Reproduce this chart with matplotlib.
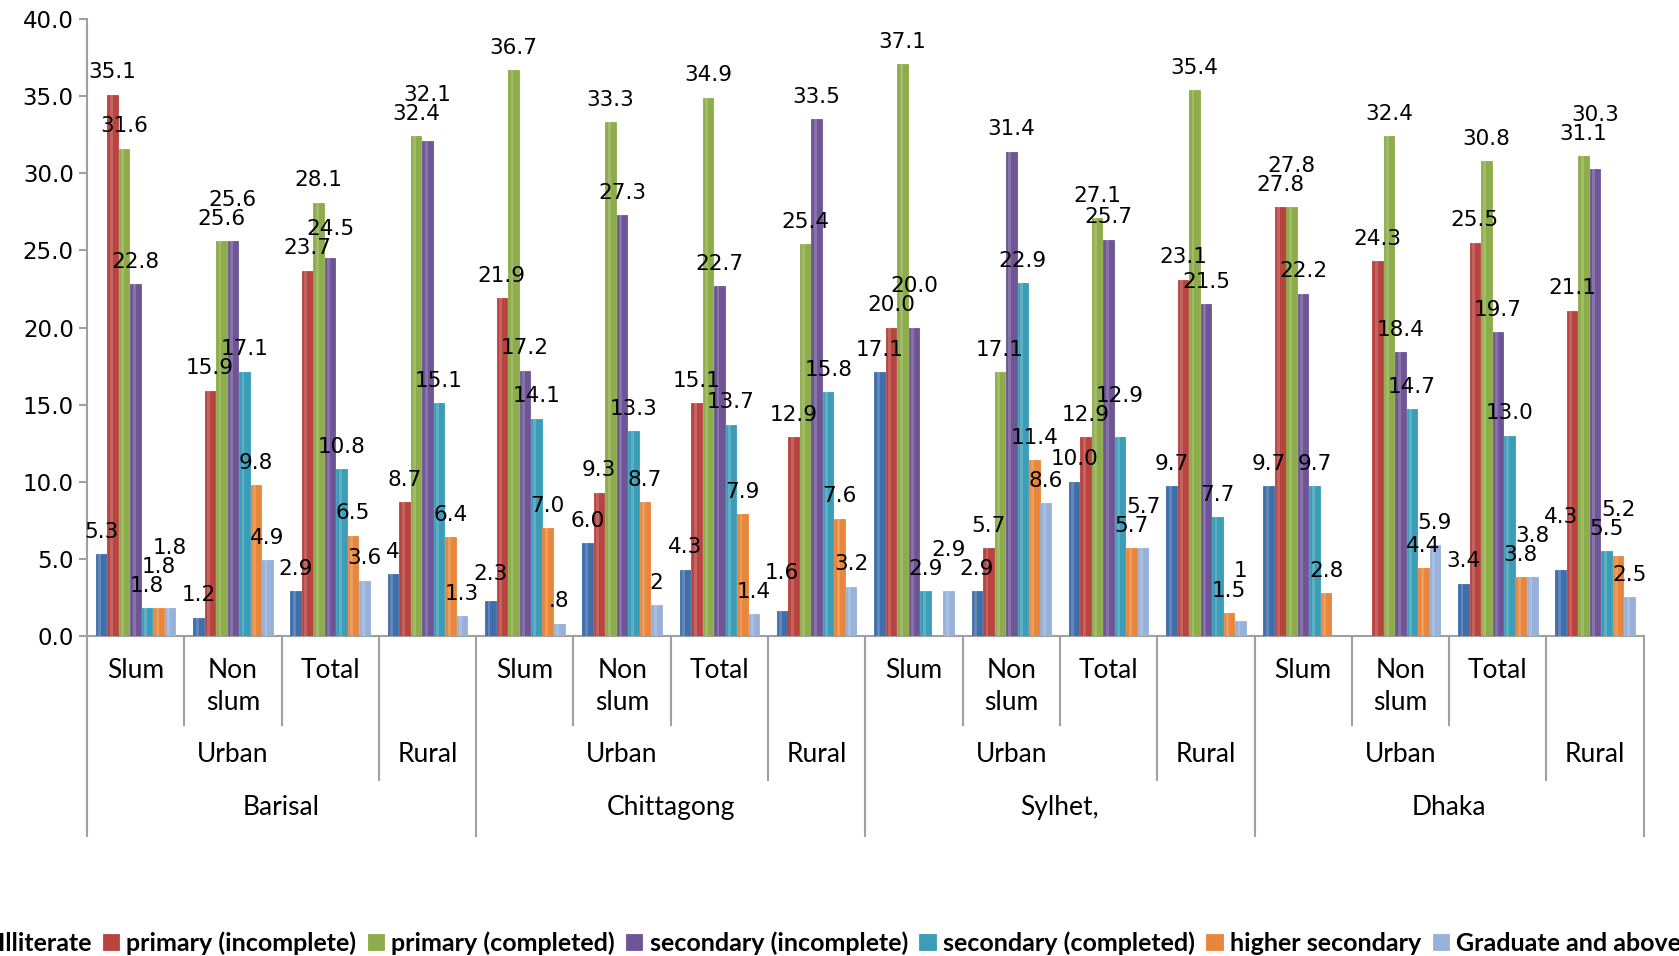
import numpy as np
import matplotlib.pyplot as plt
from matplotlib.transforms import blended_transform_factory

# --- Data ---
regions = ["Barisal", "Chittagong", "Sylhet,", "Dhaka"]
areas = ["Urban", "Rural"]
subgroups = ["Slum", "Non\nslum", "Total", ""]

series = ["Illiterate", "primary (incomplete)", "primary (completed)",
          "secondary (incomplete)", "secondary (completed)",
          "higher secondary", "Graduate and above"]

# values as printed on the chart (16 bars each: 4 regions x Slum/Non slum/Total/Rural)
illiterate = ["5.3", "1.2", "2.9", "4", "2.3", "6.0", "4.3", "1.6",
              "17.1", "2.9", "10.0", "9.7", "9.7", "0", "3.4", "4.3"]
primary_inc = ["35.1", "15.9", "23.7", "8.7", "21.9", "9.3", "15.1", "12.9",
               "20.0", "5.7", "12.9", "23.1", "27.8", "24.3", "25.5", "21.1"]
primary_comp = ["31.6", "25.6", "28.1", "32.4", "36.7", "33.3", "34.9", "25.4",
                "37.1", "17.1", "27.1", "35.4", "27.8", "32.4", "30.8", "31.1"]
secondary_inc = ["22.8", "25.6", "24.5", "32.1", "17.2", "27.3", "22.7", "33.5",
                 "20.0", "31.4", "25.7", "21.5", "22.2", "18.4", "19.7", "30.3"]
secondary_comp = ["1.8", "17.1", "10.8", "15.1", "14.1", "13.3", "13.7", "15.8",
                  "2.9", "22.9", "12.9", "7.7", "9.7", "14.7", "13.0", "5.5"]
higher_sec = ["1.8", "9.8", "6.5", "6.4", "7.0", "8.7", "7.9", "7.6",
              "0", "11.4", "5.7", "1.5", "2.8", "4.4", "3.8", "5.2"]
graduate = ["1.8", "4.9", "3.6", "1.3", ".8", "2", "1.4", "3.2",
            "2.9", "8.6", "5.7", "1", "0", "5.9", "3.8", "2.5"]

all_series = [illiterate, primary_inc, primary_comp, secondary_inc,
              secondary_comp, higher_sec, graduate]
colors = ["#3F6FAA", "#B8433F", "#8DAD4A", "#6E5596", "#3B9DB8", "#E8873C", "#97B1DA"]

n_groups = len(illiterate)
x = np.arange(n_groups)
bw = 0.118
offsets = (np.arange(len(series)) - 3) * bw

fig = plt.figure(figsize=(16.79, 9.56), dpi=100)
ax = fig.add_axes([0.0518, 0.3347, 0.9272, 0.6453])

for k, (name, vals, c) in enumerate(zip(series, all_series, colors)):
    h = [float(v) for v in vals]
    ax.bar(x + offsets[k], h, bw * 0.92, color=c, edgecolor=c, linewidth=0.6,
           label=name, zorder=3)
    # lighter highlight to hint the cylinder look
    ax.bar(x + offsets[k] - bw * 0.12, h, bw * 0.25, color="white", alpha=0.18,
           linewidth=0, zorder=4)

ax.set_xlim(-0.5, n_groups - 0.5)
ax.set_ylim(0, 40)
ax.set_yticks(np.arange(0, 40.1, 5))
ax.set_yticklabels([f"{v:.1f}" for v in np.arange(0, 40.1, 5)], fontsize=16.5)
ax.set_xticks([])
for s in ["top", "right"]:
    ax.spines[s].set_visible(False)
ax.spines["left"].set_color("#A0A0A0")
ax.spines["bottom"].set_color("#A0A0A0")
ax.spines["left"].set_linewidth(1.5)
ax.spines["bottom"].set_linewidth(1.5)
ax.tick_params(axis="y", colors="#A0A0A0", labelcolor="black", length=6, width=1.5)

# --- data labels, bumped upward to avoid collisions ---
fig.canvas.draw()
renderer = fig.canvas.get_renderer()
inv = ax.transData.inverted()
placed = []
for g in range(n_groups):
    for k, vals in enumerate(all_series):
        s = vals[g]
        if float(s) == 0:
            continue
        xc = x[g] + offsets[k]
        y = float(s) + 0.8
        t = ax.text(xc, y, s, ha="center", va="bottom", fontsize=15.5, zorder=5)
        bb = t.get_window_extent(renderer)
        (x0, y0), (x1, y1) = inv.transform([[bb.x0, bb.y0], [bb.x1, bb.y1]])
        w, hh = (x1 - x0) * 1.02, (y1 - y0) * 0.95
        for _ in range(60):
            hit = None
            for (px, py, pw, ph) in placed:
                if abs(px - xc) < (pw + w) / 2 and abs(py - y) < (ph + hh) / 2 - 1e-6:
                    hit = (py, ph)
                    break
            if hit is None:
                break
            y = hit[0] + (hit[1] + hh) / 2 + 0.01
        t.set_y(y)
        placed.append((xc, y, w, hh))

# --- hierarchical category axis ---
tr = blended_transform_factory(ax.transData, ax.transAxes)
line_kw = dict(color="#A0A0A0", lw=1.5, transform=tr, clip_on=False)
for i in range(n_groups + 1):
    xs = i - 0.5
    if i % 4 == 0:
        y_end = -0.324
    elif i % 4 == 3:
        y_end = -0.2335
    else:
        y_end = -0.1443
    ax.plot([xs, xs], [0, y_end], **line_kw)

cat_font = dict(fontsize=19, family="Lato")
for g in range(n_groups):
    ax.text(x[g], -0.035, subgroups[g % 4], transform=tr, ha="center", va="top",
            linespacing=1.35, **cat_font)
for r in range(len(regions)):
    ax.text(4 * r + 1, -0.192, areas[0], transform=tr, ha="center", va="center",
            **cat_font)
    ax.text(4 * r + 3, -0.192, areas[1], transform=tr, ha="center", va="center",
            **cat_font)
    ax.text(4 * r + 1.5, -0.2776, regions[r], transform=tr, ha="center", va="center",
            **cat_font)

leg = fig.legend(loc="center", bbox_to_anchor=(0.493, 0.0135), ncol=7, frameon=False,
                 prop={"family": "Lato", "weight": "bold", "size": 18},
                 handlelength=0.65, handleheight=0.65, handletextpad=0.3,
                 columnspacing=0.45)

fig.savefig("out.png", dpi=100)
